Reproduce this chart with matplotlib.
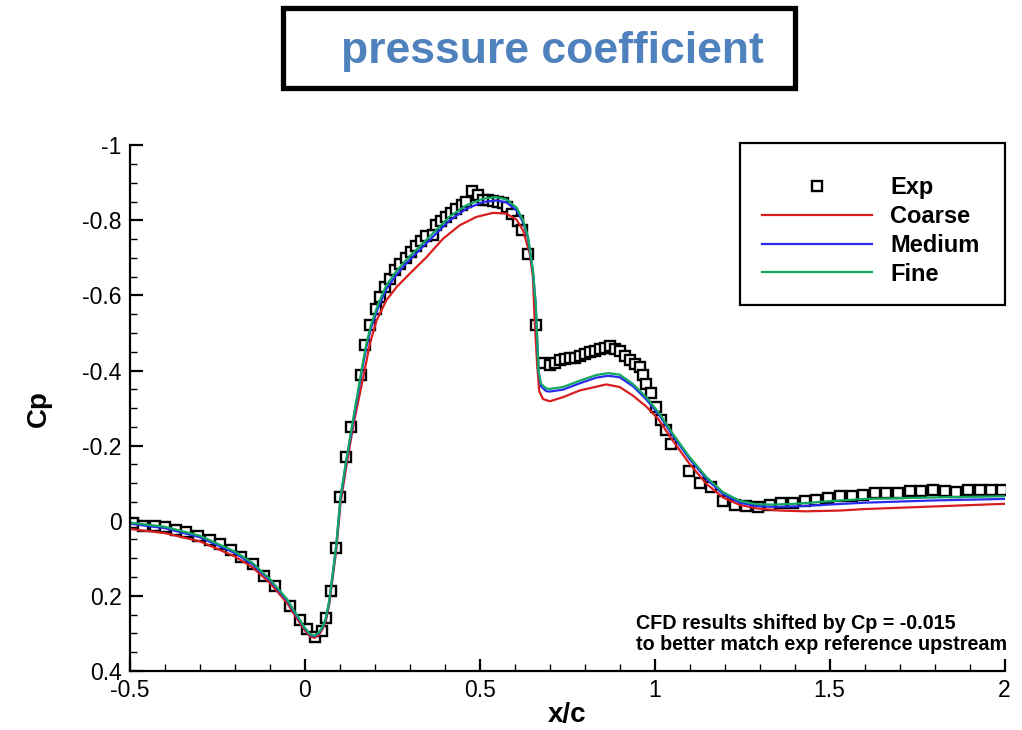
import matplotlib
matplotlib.use("Agg")
import matplotlib.pyplot as plt
from matplotlib.patches import Rectangle
from matplotlib.ticker import MultipleLocator, FuncFormatter

plt.rcParams['font.family'] = ['Liberation Sans', 'DejaVu Sans']
plt.rcParams['axes.unicode_minus'] = False

# experimental data (open squares)
exp_x = [-0.491, -0.462, -0.429, -0.400, -0.367, -0.338, -0.305, -0.271, -0.243, -0.210,
         -0.181, -0.148, -0.117, -0.086, -0.043, -0.014, 0.005, 0.029, 0.048, 0.062,
         0.074, 0.089, 0.102, 0.117, 0.131, 0.160, 0.171, 0.186, 0.203, 0.216,
         0.229, 0.243, 0.257, 0.271, 0.289, 0.303, 0.317, 0.331, 0.346, 0.367,
         0.376, 0.390, 0.405, 0.419, 0.433, 0.448, 0.462, 0.479, 0.495, 0.510,
         0.524, 0.538, 0.552, 0.567, 0.578, 0.593, 0.610, 0.622, 0.638, 0.662,
         0.681, 0.700, 0.714, 0.729, 0.743, 0.757, 0.771, 0.786, 0.800, 0.814,
         0.829, 0.843, 0.857, 0.871, 0.886, 0.900, 0.914, 0.929, 0.943, 0.957,
         0.967, 0.976, 0.990, 1.005, 1.019, 1.033, 1.048, 1.098, 1.129, 1.162,
         1.195, 1.229, 1.262, 1.295, 1.329, 1.362, 1.395, 1.429, 1.462, 1.495,
         1.529, 1.565, 1.595, 1.629, 1.662, 1.695, 1.729, 1.762, 1.795, 1.829,
         1.862, 1.895, 1.929, 1.962, 1.993]
exp_cp = [0.007, 0.013, 0.013, 0.018, 0.025, 0.031, 0.042, 0.052, 0.062, 0.078,
          0.098, 0.115, 0.146, 0.174, 0.227, 0.265, 0.289, 0.311, 0.295, 0.260,
          0.187, 0.073, -0.062, -0.171, -0.250, -0.387, -0.467, -0.520, -0.564, -0.597,
          -0.622, -0.644, -0.668, -0.684, -0.700, -0.716, -0.731, -0.745, -0.759, -0.760,
          -0.787, -0.798, -0.809, -0.819, -0.831, -0.842, -0.849, -0.878, -0.867, -0.853,
          -0.853, -0.851, -0.849, -0.845, -0.836, -0.818, -0.798, -0.775, -0.711, -0.520,
          -0.420, -0.416, -0.420, -0.427, -0.431, -0.433, -0.434, -0.440, -0.444, -0.449,
          -0.453, -0.458, -0.461, -0.464, -0.458, -0.453, -0.440, -0.428, -0.418, -0.409,
          -0.387, -0.364, -0.339, -0.302, -0.267, -0.242, -0.203, -0.132, -0.100, -0.089,
          -0.053, -0.043, -0.039, -0.036, -0.043, -0.046, -0.046, -0.053, -0.056, -0.060,
          -0.065, -0.067, -0.069, -0.073, -0.075, -0.075, -0.078, -0.080, -0.082, -0.078,
          -0.077, -0.082, -0.082, -0.082, -0.082]

# CFD results
coarse_x = [-0.5, -0.4, -0.3, -0.2, -0.15, -0.1, -0.05, -0.02, 0.0, 0.015,
            0.028, 0.04, 0.05, 0.06, 0.07, 0.08, 0.09, 0.102, 0.12, 0.14,
            0.171, 0.186, 0.205, 0.233, 0.262, 0.3, 0.348, 0.395, 0.443, 0.49,
            0.538, 0.576, 0.605, 0.624, 0.643, 0.652, 0.657, 0.664, 0.67, 0.681,
            0.7, 0.738, 0.786, 0.862, 0.9, 0.938, 0.976, 1.01, 1.052, 1.1,
            1.148, 1.195, 1.243, 1.29, 1.357, 1.433, 1.529, 1.6, 1.8, 2.0]
coarse_cp = [0.022, 0.033, 0.055, 0.095, 0.124, 0.165, 0.22, 0.264, 0.292, 0.308,
             0.312, 0.305, 0.29, 0.268, 0.222, 0.15, 0.078, -0.045, -0.152, -0.26,
             -0.40, -0.471, -0.533, -0.587, -0.622, -0.658, -0.702, -0.751, -0.787, -0.809,
             -0.82, -0.818, -0.802, -0.773, -0.711, -0.649, -0.533, -0.418, -0.345, -0.324,
             -0.318, -0.329, -0.347, -0.363, -0.356, -0.333, -0.304, -0.271, -0.213, -0.151,
             -0.098, -0.062, -0.042, -0.033, -0.027, -0.025, -0.027, -0.031, -0.038, -0.045]

fine_x = [-0.5, -0.4, -0.3, -0.2, -0.15, -0.1, -0.05, -0.02, 0.0, 0.015,
          0.028, 0.04, 0.05, 0.06, 0.07, 0.08, 0.09, 0.102, 0.12, 0.14,
          0.162, 0.176, 0.19, 0.21, 0.233, 0.262, 0.29, 0.329, 0.367, 0.414,
          0.462, 0.51, 0.548, 0.576, 0.605, 0.624, 0.638, 0.652, 0.66, 0.664,
          0.668, 0.675, 0.69, 0.7, 0.738, 0.786, 0.833, 0.867, 0.9, 0.938,
          0.976, 1.014, 1.052, 1.1, 1.148, 1.195, 1.243, 1.29, 1.338, 1.4,
          1.5, 1.6, 1.8, 2.0]
medium_cp = [0.008, 0.02, 0.044, 0.086, 0.116, 0.158, 0.213, 0.258, 0.287, 0.304,
             0.308, 0.3, 0.286, 0.263, 0.216, 0.142, 0.068, -0.058, -0.165, -0.272,
             -0.392, -0.462, -0.515, -0.568, -0.617, -0.655, -0.686, -0.722, -0.757, -0.80,
             -0.831, -0.849, -0.853, -0.848, -0.827, -0.795, -0.752, -0.665, -0.575, -0.486,
             -0.397, -0.358, -0.345, -0.344, -0.349, -0.366, -0.381, -0.386, -0.382, -0.358,
             -0.323, -0.28, -0.226, -0.164, -0.111, -0.071, -0.048, -0.039, -0.037, -0.038,
             -0.043, -0.048, -0.054, -0.058]
fine_cp = [0.005, 0.016, 0.04, 0.082, 0.112, 0.155, 0.21, 0.255, 0.285, 0.302,
           0.306, 0.298, 0.284, 0.26, 0.213, 0.14, 0.065, -0.062, -0.17, -0.28,
           -0.40, -0.471, -0.524, -0.578, -0.627, -0.665, -0.695, -0.731, -0.766, -0.81,
           -0.84, -0.858, -0.862, -0.856, -0.834, -0.80, -0.756, -0.667, -0.578, -0.489,
           -0.40, -0.365, -0.352, -0.351, -0.356, -0.373, -0.388, -0.393, -0.389, -0.364,
           -0.329, -0.285, -0.231, -0.169, -0.116, -0.076, -0.053, -0.044, -0.043, -0.045,
           -0.052, -0.058, -0.062, -0.065]

fig = plt.figure(figsize=(10.22, 7.3), dpi=100)
ax = fig.add_axes([0.127, 0.081, 0.856, 0.720])

ax.plot(exp_x, exp_cp, ls='none', marker='s', ms=6.5, mfc='white', mec='black', mew=1.7, label='Exp')
ax.plot(coarse_x, coarse_cp, color='#d81e1e', lw=1.6, label='Coarse')
ax.plot(fine_x, medium_cp, color='#2b2bef', lw=1.6, label='Medium')
ax.plot(fine_x, fine_cp, color='#12a860', lw=1.6, label='Fine')

ax.set_xlim(-0.5, 2)
ax.set_ylim(0.4, -1)
ax.spines['top'].set_visible(False)
ax.spines['right'].set_visible(False)
for s in ['left', 'bottom']:
    ax.spines[s].set_linewidth(1.6)
ax.xaxis.set_major_locator(MultipleLocator(0.5))
ax.xaxis.set_minor_locator(MultipleLocator(0.1))
ax.yaxis.set_major_locator(MultipleLocator(0.2))
ax.yaxis.set_minor_locator(MultipleLocator(0.05))
fmt = FuncFormatter(lambda v, p: '%g' % round(v, 3))
ax.xaxis.set_major_formatter(fmt)
ax.yaxis.set_major_formatter(fmt)
ax.tick_params(which='major', direction='in', length=9, width=1.6, labelsize=16.5, pad=6)
ax.tick_params(which='minor', direction='in', length=5, width=1.0)

ax.set_xlabel('x/c', fontsize=20, fontweight='bold', labelpad=0)
ax.set_ylabel('Cp', fontsize=20, fontweight='bold', labelpad=22)

leg = ax.legend(loc='upper left', bbox_to_anchor=(762 / 1022, 1 - 176 / 730),
                bbox_transform=fig.transFigure, frameon=False, prop={'weight': 'bold', 'size': 17},
                handlelength=4.66, handletextpad=0.76, labelspacing=0.25, borderpad=0, borderaxespad=0)
fig.add_artist(Rectangle((740 / 1022, 1 - 305 / 730), 265 / 1022, 162 / 730,
                         transform=fig.transFigure, fill=False, lw=1.6, ec='black'))

ax.text(636 / 1022, 1 - 614 / 730,
        'CFD results shifted by Cp = -0.015\nto better match exp reference upstream',
        transform=fig.transFigure, fontsize=14.2, fontweight='bold', va='top', ha='left', linespacing=1.12)

# title box
fig.add_artist(Rectangle((283 / 1022, 1 - 88 / 730), 512 / 1022, 80 / 730,
                         transform=fig.transFigure, fill=False, lw=3.8, ec='black'))
fig.text(552 / 1022, 1 - 51 / 730, 'pressure coefficient', fontsize=32, fontweight='bold',
         color='#4f81bd', ha='center', va='center')

fig.savefig('out.png', dpi=100)
